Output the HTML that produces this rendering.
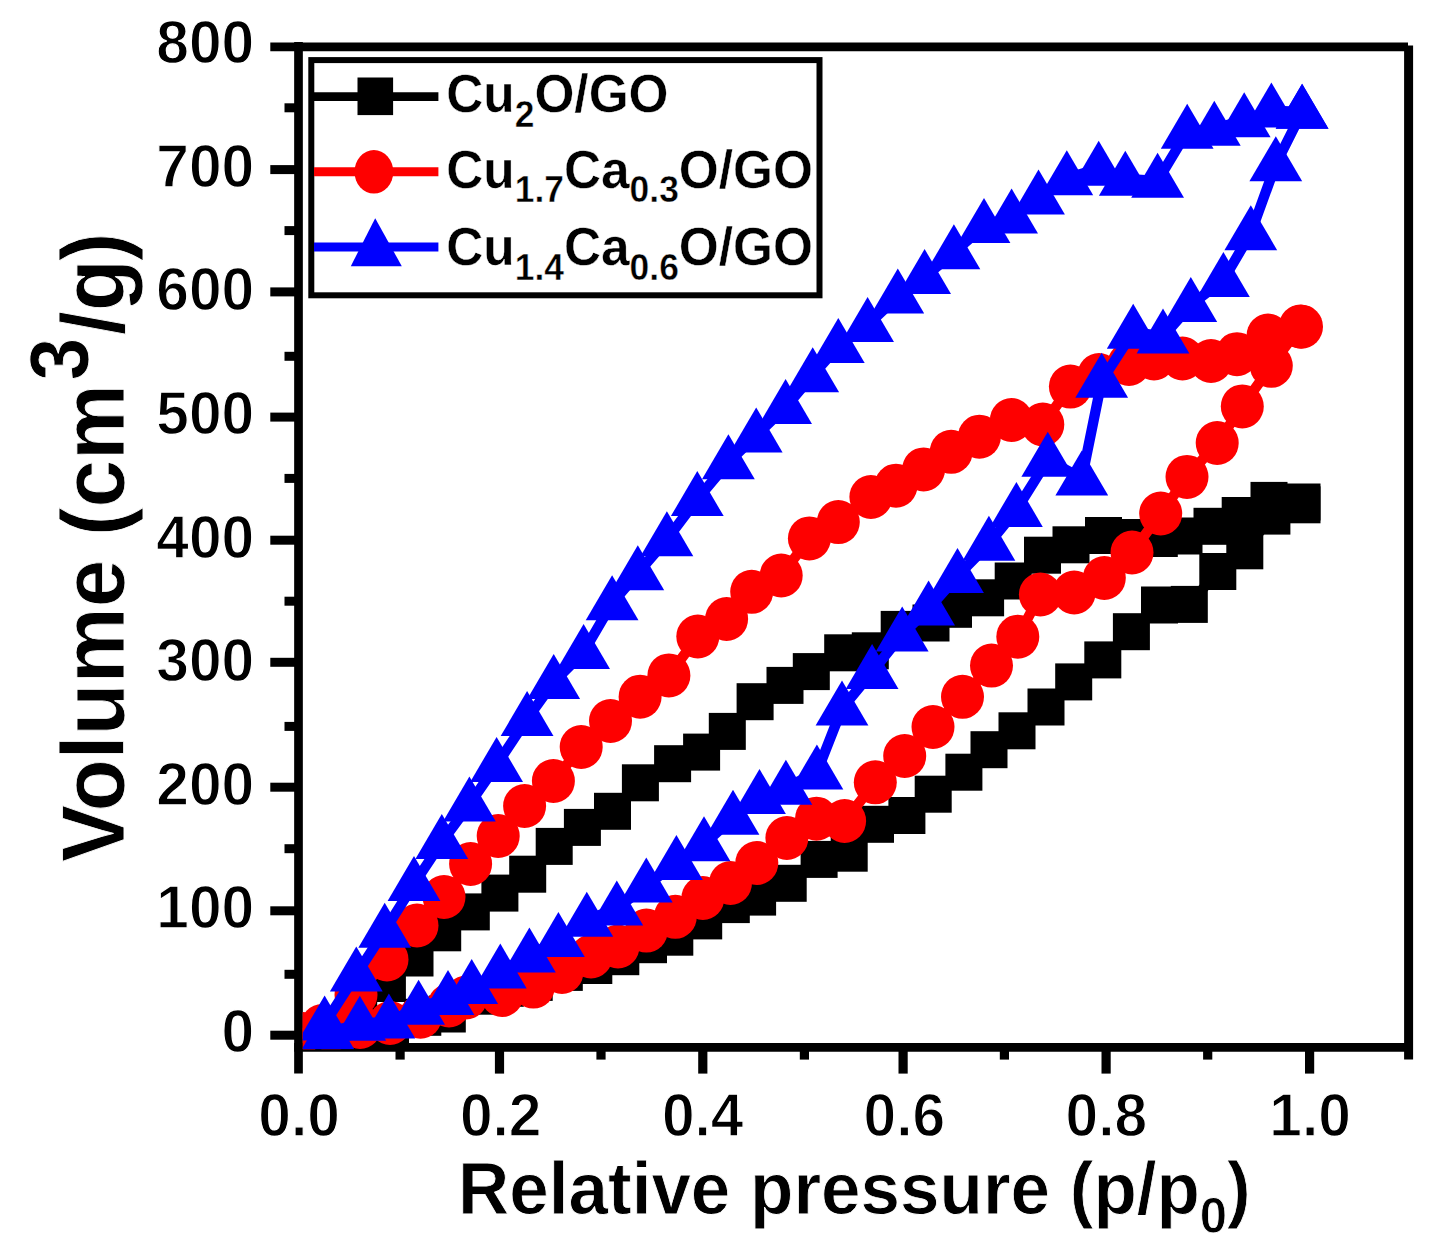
<!DOCTYPE html>
<html lang="en"><head><meta charset="utf-8"><title>N2 adsorption-desorption isotherms</title>
<style>html,body{margin:0;padding:0;background:#fff;}body{width:1435px;height:1258px;overflow:hidden;}svg{display:block;}</style>
</head><body>
<svg width="1435" height="1258" viewBox="0 0 1435 1258">
<rect width="1435" height="1258" fill="#fff"/>
<defs><clipPath id="pc"><rect x="302.8" y="40" width="1112" height="1009.2"/></clipPath></defs>
<g id="axes" stroke="#000" stroke-width="8.7" fill="none" stroke-linecap="butt">
<line x1="298.5" y1="42.1" x2="298.5" y2="1073.6"/>
<line x1="270.3" y1="46.8" x2="1408" y2="46.8"/>
<line x1="1408.6" y1="45.5" x2="1408.6" y2="1059.6" stroke-width="9"/>
<line x1="294.2" y1="1047.4" x2="1413" y2="1047.4"/>
<line x1="270.3" y1="1035.2" x2="298.5" y2="1035.2" stroke-width="9"/>
<line x1="270.3" y1="910.8" x2="298.5" y2="910.8" stroke-width="9"/>
<line x1="270.3" y1="787.2" x2="298.5" y2="787.2" stroke-width="9"/>
<line x1="270.3" y1="662.3" x2="298.5" y2="662.3" stroke-width="9"/>
<line x1="270.3" y1="540.2" x2="298.5" y2="540.2" stroke-width="9"/>
<line x1="270.3" y1="417.1" x2="298.5" y2="417.1" stroke-width="9"/>
<line x1="270.3" y1="291.9" x2="298.5" y2="291.9" stroke-width="9"/>
<line x1="270.3" y1="169.6" x2="298.5" y2="169.6" stroke-width="9"/>
<line x1="284.5" y1="974.3" x2="298.5" y2="974.3" stroke-width="9"/>
<line x1="284.5" y1="848.7" x2="298.5" y2="848.7" stroke-width="9"/>
<line x1="284.5" y1="726.4" x2="298.5" y2="726.4" stroke-width="9"/>
<line x1="284.5" y1="601.2" x2="298.5" y2="601.2" stroke-width="9"/>
<line x1="284.5" y1="478.4" x2="298.5" y2="478.4" stroke-width="9"/>
<line x1="284.5" y1="356.3" x2="298.5" y2="356.3" stroke-width="9"/>
<line x1="284.5" y1="230.6" x2="298.5" y2="230.6" stroke-width="9"/>
<line x1="284.5" y1="107.8" x2="298.5" y2="107.8" stroke-width="9"/>
<line x1="499.5" y1="1047.4" x2="499.5" y2="1073.6" stroke-width="9.2"/>
<line x1="702.8" y1="1047.4" x2="702.8" y2="1073.6" stroke-width="9.2"/>
<line x1="903.1" y1="1047.4" x2="903.1" y2="1073.6" stroke-width="9.2"/>
<line x1="1106.1" y1="1047.4" x2="1106.1" y2="1073.6" stroke-width="9.2"/>
<line x1="1309.6" y1="1047.4" x2="1309.6" y2="1073.6" stroke-width="9.2"/>
<line x1="400.1" y1="1047.4" x2="400.1" y2="1059.6" stroke-width="9.2"/>
<line x1="601.0" y1="1047.4" x2="601.0" y2="1059.6" stroke-width="9.2"/>
<line x1="804.4" y1="1047.4" x2="804.4" y2="1059.6" stroke-width="9.2"/>
<line x1="1004.4" y1="1047.4" x2="1004.4" y2="1059.6" stroke-width="9.2"/>
<line x1="1207.7" y1="1047.4" x2="1207.7" y2="1059.6" stroke-width="9.2"/>
</g>
<g id="ticklabels" font-family="Liberation Sans, Arial, sans-serif" font-weight="bold" font-size="58.7" fill="#000" stroke="#fff" stroke-width="1.2">
<text transform="translate(254.2,1051.9) scale(1,1.045)" text-anchor="end">0</text>
<text transform="translate(254.2,928.3) scale(1,1.045)" text-anchor="end">100</text>
<text transform="translate(254.2,804.7) scale(1,1.045)" text-anchor="end">200</text>
<text transform="translate(254.2,681.1) scale(1,1.045)" text-anchor="end">300</text>
<text transform="translate(254.2,557.5) scale(1,1.045)" text-anchor="end">400</text>
<text transform="translate(254.2,433.8) scale(1,1.045)" text-anchor="end">500</text>
<text transform="translate(254.2,310.2) scale(1,1.045)" text-anchor="end">600</text>
<text transform="translate(254.2,186.6) scale(1,1.045)" text-anchor="end">700</text>
<text transform="translate(254.2,63.0) scale(1,1.045)" text-anchor="end">800</text>
<text transform="translate(299.1,1136.4) scale(1,1.045)" text-anchor="middle">0.0</text>
<text transform="translate(500.7,1136.4) scale(1,1.045)" text-anchor="middle">0.2</text>
<text transform="translate(702.7,1136.4) scale(1,1.045)" text-anchor="middle">0.4</text>
<text transform="translate(904.4,1136.4) scale(1,1.045)" text-anchor="middle">0.6</text>
<text transform="translate(1106.3,1136.4) scale(1,1.045)" text-anchor="middle">0.8</text>
<text transform="translate(1310.1,1136.4) scale(1,1.045)" text-anchor="middle">1.0</text>
</g>
<text id="xtitle" font-family="Liberation Sans, Arial, sans-serif" font-weight="bold" font-size="71" stroke="#fff" stroke-width="0.8" transform="translate(854.4,1214) scale(1,1.035)" x="0" y="0" text-anchor="middle">Relative pressure (p/p<tspan font-size="49" dy="18">0</tspan><tspan dy="-18">)</tspan></text>
<text id="ytitle" font-family="Liberation Sans, Arial, sans-serif" font-weight="bold" font-size="85.5" stroke="#fff" stroke-width="0.8" transform="translate(124,862.1) rotate(-90) scale(1,1.04)">Volume (cm</text>
<text id="ysup" font-family="Liberation Sans, Arial, sans-serif" font-weight="bold" font-size="77" stroke="#fff" stroke-width="0.8" text-anchor="middle" transform="translate(88.3,359) rotate(-90) scale(1,1.083)">3</text>
<text id="ytitle2" font-family="Liberation Sans, Arial, sans-serif" font-weight="bold" font-size="85.5" stroke="#fff" stroke-width="0.8" transform="translate(124,334.9) rotate(-90) scale(1,1.04)">/g<tspan dx="-2">)</tspan></text>
<g id="data" clip-path="url(#pc)">
<g fill="#000" stroke="none">
<path d="M300.0,1035.0 L332.0,1034.0 L361.0,1032.0 L390.5,1026.2 L422.8,1017.3 L447.3,1014.0 L478.0,996.2 L505.3,988.3 L534.2,982.4 L564.3,972.4 L593.8,965.5 L620.8,956.7 L648.5,944.7 L674.8,937.2 L703.7,920.9 L731.3,904.6 L757.6,897.1 L788.2,883.3 L819.1,859.4 L849.2,853.2 L875.5,824.3 L906.9,815.5 L933.2,794.2 L963.9,772.2 L989.0,749.7 L1017.0,730.8 L1046.0,707.0 L1073.7,681.9 L1102.8,659.9 L1131.4,631.7 L1159.5,605.0 L1189.3,604.4 L1217.8,571.5 L1244.8,550.8 L1271.9,516.1 L1302.0,504.8" fill="none" stroke="#000" stroke-width="10.3" stroke-linejoin="round" stroke-linecap="round"/>
<path d="M300.0,1035.0 L330.0,1028.0 L358.7,1005.0 L387.4,983.5 L415.0,958.0 L442.7,932.8 L471.3,911.9 L499.9,893.1 L527.7,874.2 L554.2,846.4 L582.4,827.4 L612.5,811.3 L640.4,782.8 L672.6,763.7 L701.6,752.1 L727.3,731.4 L755.1,701.7 L785.0,685.4 L811.3,671.6 L842.7,652.8 L870.3,650.8 L899.2,629.4 L931.0,623.0 L953.5,609.3 L985.6,597.8 L1013.2,581.0 L1042.5,555.2 L1071.0,544.8 L1103.5,535.5 L1134.0,537.5 L1159.3,538.5 L1184.0,536.0 L1212.0,526.3 L1240.2,515.5 L1269.0,500.4 L1302.0,502.0" fill="none" stroke="#000" stroke-width="10.3" stroke-linejoin="round" stroke-linecap="round"/>
<rect x="281.5" y="1016.5" width="37" height="37"/>
<rect x="313.5" y="1015.5" width="37" height="37"/>
<rect x="342.5" y="1013.5" width="37" height="37"/>
<rect x="372.0" y="1007.7" width="37" height="37"/>
<rect x="404.3" y="998.8" width="37" height="37"/>
<rect x="428.8" y="995.5" width="37" height="37"/>
<rect x="459.5" y="977.7" width="37" height="37"/>
<rect x="486.8" y="969.8" width="37" height="37"/>
<rect x="515.7" y="963.9" width="37" height="37"/>
<rect x="545.8" y="953.9" width="37" height="37"/>
<rect x="575.3" y="947.0" width="37" height="37"/>
<rect x="602.3" y="938.2" width="37" height="37"/>
<rect x="630.0" y="926.2" width="37" height="37"/>
<rect x="656.3" y="918.7" width="37" height="37"/>
<rect x="685.2" y="902.4" width="37" height="37"/>
<rect x="712.8" y="886.1" width="37" height="37"/>
<rect x="739.1" y="878.6" width="37" height="37"/>
<rect x="769.7" y="864.8" width="37" height="37"/>
<rect x="800.6" y="840.9" width="37" height="37"/>
<rect x="830.7" y="834.7" width="37" height="37"/>
<rect x="857.0" y="805.8" width="37" height="37"/>
<rect x="888.4" y="797.0" width="37" height="37"/>
<rect x="914.7" y="775.7" width="37" height="37"/>
<rect x="945.4" y="753.7" width="37" height="37"/>
<rect x="970.5" y="731.2" width="37" height="37"/>
<rect x="998.5" y="712.3" width="37" height="37"/>
<rect x="1027.5" y="688.5" width="37" height="37"/>
<rect x="1055.2" y="663.4" width="37" height="37"/>
<rect x="1084.3" y="641.4" width="37" height="37"/>
<rect x="1112.9" y="613.2" width="37" height="37"/>
<rect x="1141.0" y="586.5" width="37" height="37"/>
<rect x="1170.8" y="585.9" width="37" height="37"/>
<rect x="1199.3" y="553.0" width="37" height="37"/>
<rect x="1226.3" y="532.3" width="37" height="37"/>
<rect x="1253.4" y="497.6" width="37" height="37"/>
<rect x="1283.5" y="486.3" width="37" height="37"/>
<rect x="281.5" y="1016.5" width="37" height="37"/>
<rect x="311.5" y="1009.5" width="37" height="37"/>
<rect x="340.2" y="986.5" width="37" height="37"/>
<rect x="368.9" y="965.0" width="37" height="37"/>
<rect x="396.5" y="939.5" width="37" height="37"/>
<rect x="424.2" y="914.3" width="37" height="37"/>
<rect x="452.8" y="893.4" width="37" height="37"/>
<rect x="481.4" y="874.6" width="37" height="37"/>
<rect x="509.2" y="855.7" width="37" height="37"/>
<rect x="535.7" y="827.9" width="37" height="37"/>
<rect x="563.9" y="808.9" width="37" height="37"/>
<rect x="594.0" y="792.8" width="37" height="37"/>
<rect x="621.9" y="764.3" width="37" height="37"/>
<rect x="654.1" y="745.2" width="37" height="37"/>
<rect x="683.1" y="733.6" width="37" height="37"/>
<rect x="708.8" y="712.9" width="37" height="37"/>
<rect x="736.6" y="683.2" width="37" height="37"/>
<rect x="766.5" y="666.9" width="37" height="37"/>
<rect x="792.8" y="653.1" width="37" height="37"/>
<rect x="824.2" y="634.3" width="37" height="37"/>
<rect x="851.8" y="632.3" width="37" height="37"/>
<rect x="880.7" y="610.9" width="37" height="37"/>
<rect x="912.5" y="604.5" width="37" height="37"/>
<rect x="935.0" y="590.8" width="37" height="37"/>
<rect x="967.1" y="579.3" width="37" height="37"/>
<rect x="994.7" y="562.5" width="37" height="37"/>
<rect x="1024.0" y="536.7" width="37" height="37"/>
<rect x="1052.5" y="526.3" width="37" height="37"/>
<rect x="1085.0" y="517.0" width="37" height="37"/>
<rect x="1115.5" y="519.0" width="37" height="37"/>
<rect x="1140.8" y="520.0" width="37" height="37"/>
<rect x="1165.5" y="517.5" width="37" height="37"/>
<rect x="1193.5" y="507.8" width="37" height="37"/>
<rect x="1221.7" y="497.0" width="37" height="37"/>
<rect x="1250.5" y="481.9" width="37" height="37"/>
<rect x="1283.5" y="483.5" width="37" height="37"/>
</g>
<g fill="#fe0000" stroke="none">
<path d="M300.0,1034.0 L331.0,1030.0 L360.0,1027.0 L390.0,1023.0 L420.5,1016.7 L449.0,1005.5 L466.0,997.5 L502.0,995.0 L533.4,986.6 L562.0,972.0 L591.0,956.5 L618.0,946.5 L646.4,930.6 L675.3,916.8 L702.9,898.0 L730.5,883.0 L756.8,863.0 L786.9,838.0 L816.5,818.7 L844.6,821.0 L875.3,782.3 L904.7,756.0 L933.0,727.0 L962.5,696.8 L991.5,665.6 L1017.8,636.7 L1040.4,594.5 L1074.2,592.5 L1104.3,578.0 L1132.0,552.5 L1160.7,513.5 L1187.0,476.9 L1217.2,443.0 L1242.3,406.4 L1271.3,365.8 L1300.3,326.5" fill="none" stroke="#fe0000" stroke-width="10.3" stroke-linejoin="round" stroke-linecap="round"/>
<path d="M300.0,1034.0 L322.0,1026.0 L356.0,995.0 L387.0,959.5 L417.0,925.5 L444.0,897.0 L470.6,864.0 L498.2,836.0 L524.6,806.0 L553.4,781.0 L581.2,747.0 L610.5,721.0 L640.1,696.7 L668.9,675.4 L697.8,636.5 L726.6,619.0 L751.7,591.8 L781.2,575.5 L809.4,538.4 L838.3,522.1 L870.9,497.0 L896.0,485.7 L923.6,469.4 L951.2,451.8 L979.4,436.7 L1011.4,420.0 L1042.8,424.5 L1070.4,386.6 L1099.0,375.0 L1129.0,364.0 L1154.0,358.5 L1182.5,358.5 L1211.0,361.0 L1237.0,354.2 L1268.0,335.6 L1301.5,326.7" fill="none" stroke="#fe0000" stroke-width="10.3" stroke-linejoin="round" stroke-linecap="round"/>
<ellipse cx="300.0" cy="1034.0" rx="21.5" ry="22"/>
<ellipse cx="331.0" cy="1030.0" rx="21.5" ry="22"/>
<ellipse cx="360.0" cy="1027.0" rx="21.5" ry="22"/>
<ellipse cx="390.0" cy="1023.0" rx="21.5" ry="22"/>
<ellipse cx="420.5" cy="1016.7" rx="21.5" ry="22"/>
<ellipse cx="449.0" cy="1005.5" rx="21.5" ry="22"/>
<ellipse cx="466.0" cy="997.5" rx="21.5" ry="22"/>
<ellipse cx="502.0" cy="995.0" rx="21.5" ry="22"/>
<ellipse cx="533.4" cy="986.6" rx="21.5" ry="22"/>
<ellipse cx="562.0" cy="972.0" rx="21.5" ry="22"/>
<ellipse cx="591.0" cy="956.5" rx="21.5" ry="22"/>
<ellipse cx="618.0" cy="946.5" rx="21.5" ry="22"/>
<ellipse cx="646.4" cy="930.6" rx="21.5" ry="22"/>
<ellipse cx="675.3" cy="916.8" rx="21.5" ry="22"/>
<ellipse cx="702.9" cy="898.0" rx="21.5" ry="22"/>
<ellipse cx="730.5" cy="883.0" rx="21.5" ry="22"/>
<ellipse cx="756.8" cy="863.0" rx="21.5" ry="22"/>
<ellipse cx="786.9" cy="838.0" rx="21.5" ry="22"/>
<ellipse cx="816.5" cy="818.7" rx="21.5" ry="22"/>
<ellipse cx="844.6" cy="821.0" rx="21.5" ry="22"/>
<ellipse cx="875.3" cy="782.3" rx="21.5" ry="22"/>
<ellipse cx="904.7" cy="756.0" rx="21.5" ry="22"/>
<ellipse cx="933.0" cy="727.0" rx="21.5" ry="22"/>
<ellipse cx="962.5" cy="696.8" rx="21.5" ry="22"/>
<ellipse cx="991.5" cy="665.6" rx="21.5" ry="22"/>
<ellipse cx="1017.8" cy="636.7" rx="21.5" ry="22"/>
<ellipse cx="1040.4" cy="594.5" rx="21.5" ry="22"/>
<ellipse cx="1074.2" cy="592.5" rx="21.5" ry="22"/>
<ellipse cx="1104.3" cy="578.0" rx="21.5" ry="22"/>
<ellipse cx="1132.0" cy="552.5" rx="21.5" ry="22"/>
<ellipse cx="1160.7" cy="513.5" rx="21.5" ry="22"/>
<ellipse cx="1187.0" cy="476.9" rx="21.5" ry="22"/>
<ellipse cx="1217.2" cy="443.0" rx="21.5" ry="22"/>
<ellipse cx="1242.3" cy="406.4" rx="21.5" ry="22"/>
<ellipse cx="1271.3" cy="365.8" rx="21.5" ry="22"/>
<ellipse cx="1300.3" cy="326.5" rx="21.5" ry="22"/>
<ellipse cx="300.0" cy="1034.0" rx="21.5" ry="22"/>
<ellipse cx="322.0" cy="1026.0" rx="21.5" ry="22"/>
<ellipse cx="356.0" cy="995.0" rx="21.5" ry="22"/>
<ellipse cx="387.0" cy="959.5" rx="21.5" ry="22"/>
<ellipse cx="417.0" cy="925.5" rx="21.5" ry="22"/>
<ellipse cx="444.0" cy="897.0" rx="21.5" ry="22"/>
<ellipse cx="470.6" cy="864.0" rx="21.5" ry="22"/>
<ellipse cx="498.2" cy="836.0" rx="21.5" ry="22"/>
<ellipse cx="524.6" cy="806.0" rx="21.5" ry="22"/>
<ellipse cx="553.4" cy="781.0" rx="21.5" ry="22"/>
<ellipse cx="581.2" cy="747.0" rx="21.5" ry="22"/>
<ellipse cx="610.5" cy="721.0" rx="21.5" ry="22"/>
<ellipse cx="640.1" cy="696.7" rx="21.5" ry="22"/>
<ellipse cx="668.9" cy="675.4" rx="21.5" ry="22"/>
<ellipse cx="697.8" cy="636.5" rx="21.5" ry="22"/>
<ellipse cx="726.6" cy="619.0" rx="21.5" ry="22"/>
<ellipse cx="751.7" cy="591.8" rx="21.5" ry="22"/>
<ellipse cx="781.2" cy="575.5" rx="21.5" ry="22"/>
<ellipse cx="809.4" cy="538.4" rx="21.5" ry="22"/>
<ellipse cx="838.3" cy="522.1" rx="21.5" ry="22"/>
<ellipse cx="870.9" cy="497.0" rx="21.5" ry="22"/>
<ellipse cx="896.0" cy="485.7" rx="21.5" ry="22"/>
<ellipse cx="923.6" cy="469.4" rx="21.5" ry="22"/>
<ellipse cx="951.2" cy="451.8" rx="21.5" ry="22"/>
<ellipse cx="979.4" cy="436.7" rx="21.5" ry="22"/>
<ellipse cx="1011.4" cy="420.0" rx="21.5" ry="22"/>
<ellipse cx="1042.8" cy="424.5" rx="21.5" ry="22"/>
<ellipse cx="1070.4" cy="386.6" rx="21.5" ry="22"/>
<ellipse cx="1099.0" cy="375.0" rx="21.5" ry="22"/>
<ellipse cx="1129.0" cy="364.0" rx="21.5" ry="22"/>
<ellipse cx="1154.0" cy="358.5" rx="21.5" ry="22"/>
<ellipse cx="1182.5" cy="358.5" rx="21.5" ry="22"/>
<ellipse cx="1211.0" cy="361.0" rx="21.5" ry="22"/>
<ellipse cx="1237.0" cy="354.2" rx="21.5" ry="22"/>
<ellipse cx="1268.0" cy="335.6" rx="21.5" ry="22"/>
<ellipse cx="1301.5" cy="326.7" rx="21.5" ry="22"/>
</g>
<g fill="#0000fe" stroke="none">
<path d="M328.0,1032.5 L359.8,1023.7 L388.9,1021.6 L418.6,1007.7 L448.0,998.0 L471.7,987.0 L500.3,971.6 L529.4,955.5 L558.4,939.9 L586.8,919.8 L616.8,908.5 L646.3,885.6 L676.4,863.0 L704.0,844.2 L733.0,817.8 L759.5,797.0 L785.9,787.7 L816.9,772.4 L842.0,708.4 L872.1,672.0 L902.2,634.4 L928.6,608.5 L957.5,576.0 L988.9,543.8 L1016.4,509.9 L1047.8,459.7 L1081.8,478.6 L1101.7,380.7 L1133.2,331.8 L1163.0,336.6 L1190.8,305.0 L1223.4,280.0 L1250.8,233.2 L1275.8,164.3 L1302.1,111.8" fill="none" stroke="#0000fe" stroke-width="10.3" stroke-linejoin="round" stroke-linecap="round"/>
<path d="M324.6,1023.6 L356.3,974.5 L384.7,930.8 L414.0,884.0 L441.8,842.0 L469.4,804.4 L496.6,765.0 L527.1,719.0 L553.7,682.0 L583.6,652.0 L612.1,603.2 L637.8,573.2 L666.9,539.3 L697.3,499.1 L728.4,462.3 L756.2,435.4 L785.6,407.1 L812.7,375.2 L838.3,346.1 L867.6,325.0 L897.8,296.6 L924.6,277.0 L953.9,252.3 L984.0,226.0 L1011.6,216.5 L1038.5,197.6 L1066.8,178.3 L1098.7,168.8 L1125.3,178.8 L1157.6,180.8 L1187.2,131.7 L1214.3,128.7 L1244.2,120.2 L1271.4,110.6 L1302.1,111.8" fill="none" stroke="#0000fe" stroke-width="10.3" stroke-linejoin="round" stroke-linecap="round"/>
<path d="M328.0,1004.5 L354.4,1049.5 L301.6,1049.5Z"/>
<path d="M359.8,995.7 L386.2,1040.7 L333.4,1040.7Z"/>
<path d="M388.9,993.6 L415.3,1038.6 L362.5,1038.6Z"/>
<path d="M418.6,979.7 L445.0,1024.7 L392.2,1024.7Z"/>
<path d="M448.0,970.0 L474.4,1015.0 L421.6,1015.0Z"/>
<path d="M471.7,959.0 L498.1,1004.0 L445.3,1004.0Z"/>
<path d="M500.3,943.6 L526.7,988.6 L473.9,988.6Z"/>
<path d="M529.4,927.5 L555.8,972.5 L503.0,972.5Z"/>
<path d="M558.4,911.9 L584.8,956.9 L532.0,956.9Z"/>
<path d="M586.8,891.8 L613.2,936.8 L560.4,936.8Z"/>
<path d="M616.8,880.5 L643.2,925.5 L590.4,925.5Z"/>
<path d="M646.3,857.6 L672.7,902.6 L619.9,902.6Z"/>
<path d="M676.4,835.0 L702.8,880.0 L650.0,880.0Z"/>
<path d="M704.0,816.2 L730.4,861.2 L677.6,861.2Z"/>
<path d="M733.0,789.8 L759.4,834.8 L706.6,834.8Z"/>
<path d="M759.5,769.0 L785.9,814.0 L733.1,814.0Z"/>
<path d="M785.9,759.7 L812.3,804.7 L759.5,804.7Z"/>
<path d="M816.9,744.4 L843.3,789.4 L790.5,789.4Z"/>
<path d="M842.0,680.4 L868.4,725.4 L815.6,725.4Z"/>
<path d="M872.1,644.0 L898.5,689.0 L845.7,689.0Z"/>
<path d="M902.2,606.4 L928.6,651.4 L875.8,651.4Z"/>
<path d="M928.6,580.5 L955.0,625.5 L902.2,625.5Z"/>
<path d="M957.5,548.0 L983.9,593.0 L931.1,593.0Z"/>
<path d="M988.9,515.8 L1015.3,560.8 L962.5,560.8Z"/>
<path d="M1016.4,481.9 L1042.8,526.9 L990.0,526.9Z"/>
<path d="M1047.8,431.7 L1074.2,476.7 L1021.4,476.7Z"/>
<path d="M1081.8,450.6 L1108.2,495.6 L1055.4,495.6Z"/>
<path d="M1101.7,352.7 L1128.1,397.7 L1075.3,397.7Z"/>
<path d="M1133.2,303.8 L1159.6,348.8 L1106.8,348.8Z"/>
<path d="M1163.0,308.6 L1189.4,353.6 L1136.6,353.6Z"/>
<path d="M1190.8,277.0 L1217.2,322.0 L1164.4,322.0Z"/>
<path d="M1223.4,252.0 L1249.8,297.0 L1197.0,297.0Z"/>
<path d="M1250.8,205.2 L1277.2,250.2 L1224.4,250.2Z"/>
<path d="M1275.8,136.3 L1302.2,181.3 L1249.4,181.3Z"/>
<path d="M1302.1,83.8 L1328.5,128.8 L1275.7,128.8Z"/>
<path d="M324.6,995.6 L351.0,1040.6 L298.2,1040.6Z"/>
<path d="M356.3,946.5 L382.7,991.5 L329.9,991.5Z"/>
<path d="M384.7,902.8 L411.1,947.8 L358.3,947.8Z"/>
<path d="M414.0,856.0 L440.4,901.0 L387.6,901.0Z"/>
<path d="M441.8,814.0 L468.2,859.0 L415.4,859.0Z"/>
<path d="M469.4,776.4 L495.8,821.4 L443.0,821.4Z"/>
<path d="M496.6,737.0 L523.0,782.0 L470.2,782.0Z"/>
<path d="M527.1,691.0 L553.5,736.0 L500.7,736.0Z"/>
<path d="M553.7,654.0 L580.1,699.0 L527.3,699.0Z"/>
<path d="M583.6,624.0 L610.0,669.0 L557.2,669.0Z"/>
<path d="M612.1,575.2 L638.5,620.2 L585.7,620.2Z"/>
<path d="M637.8,545.2 L664.2,590.2 L611.4,590.2Z"/>
<path d="M666.9,511.3 L693.3,556.3 L640.5,556.3Z"/>
<path d="M697.3,471.1 L723.7,516.1 L670.9,516.1Z"/>
<path d="M728.4,434.3 L754.8,479.3 L702.0,479.3Z"/>
<path d="M756.2,407.4 L782.6,452.4 L729.8,452.4Z"/>
<path d="M785.6,379.1 L812.0,424.1 L759.2,424.1Z"/>
<path d="M812.7,347.2 L839.1,392.2 L786.3,392.2Z"/>
<path d="M838.3,318.1 L864.7,363.1 L811.9,363.1Z"/>
<path d="M867.6,297.0 L894.0,342.0 L841.2,342.0Z"/>
<path d="M897.8,268.6 L924.2,313.6 L871.4,313.6Z"/>
<path d="M924.6,249.0 L951.0,294.0 L898.2,294.0Z"/>
<path d="M953.9,224.3 L980.3,269.3 L927.5,269.3Z"/>
<path d="M984.0,198.0 L1010.4,243.0 L957.6,243.0Z"/>
<path d="M1011.6,188.5 L1038.0,233.5 L985.2,233.5Z"/>
<path d="M1038.5,169.6 L1064.9,214.6 L1012.1,214.6Z"/>
<path d="M1066.8,150.3 L1093.2,195.3 L1040.4,195.3Z"/>
<path d="M1098.7,140.8 L1125.1,185.8 L1072.3,185.8Z"/>
<path d="M1125.3,150.8 L1151.7,195.8 L1098.9,195.8Z"/>
<path d="M1157.6,152.8 L1184.0,197.8 L1131.2,197.8Z"/>
<path d="M1187.2,103.7 L1213.6,148.7 L1160.8,148.7Z"/>
<path d="M1214.3,100.7 L1240.7,145.7 L1187.9,145.7Z"/>
<path d="M1244.2,92.2 L1270.6,137.2 L1217.8,137.2Z"/>
<path d="M1271.4,82.6 L1297.8,127.6 L1245.0,127.6Z"/>
<path d="M1302.1,83.8 L1328.5,128.8 L1275.7,128.8Z"/>
</g>
</g>
<g id="legend">
<rect x="311.3" y="60.1" width="508.2" height="235.2" fill="#fff" stroke="#000" stroke-width="6"/>
<line x1="314" y1="96.6" x2="438.4" y2="96.6" stroke="#000" stroke-width="8.6" stroke-linecap="butt"/>
<rect x="357.5" y="77.5" width="35.6" height="37.6" fill="#000"/>
<line x1="314" y1="171.8" x2="438.4" y2="171.8" stroke="#fe0000" stroke-width="9" stroke-linecap="butt"/>
<ellipse cx="373.9" cy="171.8" rx="19.4" ry="21.8" fill="#fe0000"/>
<line x1="314" y1="246.9" x2="438.4" y2="246.9" stroke="#0000fe" stroke-width="9" stroke-linecap="butt"/>
<path d="M375.2,218.2 L401.8,266.2 L350.8,266.2Z" fill="#0000fe"/>
<text font-family="Liberation Sans, Arial, sans-serif" font-weight="bold" font-size="51.4" fill="#000" stroke="#fff" stroke-width="0.4" transform="translate(446.2,112.3) scale(1,1.035)">Cu<tspan font-size="35.4" dy="13.8">2</tspan><tspan dy="-13.8">O/GO</tspan></text>
<text font-family="Liberation Sans, Arial, sans-serif" font-weight="bold" font-size="51.4" fill="#000" stroke="#fff" stroke-width="0.4" transform="translate(446.2,187.9) scale(1,1.035)">Cu<tspan font-size="35.4" dy="13.8">1.7</tspan><tspan dy="-13.8">Ca</tspan><tspan font-size="35.4" dy="13.8">0.3</tspan><tspan dy="-13.8">O/GO</tspan></text>
<text font-family="Liberation Sans, Arial, sans-serif" font-weight="bold" font-size="51.4" fill="#000" stroke="#fff" stroke-width="0.4" transform="translate(446.2,265.3) scale(1,1.035)">Cu<tspan font-size="35.4" dy="13.8">1.4</tspan><tspan dy="-13.8">Ca</tspan><tspan font-size="35.4" dy="13.8">0.6</tspan><tspan dy="-13.8">O/GO</tspan></text>
</g>
</svg>
</body></html>
